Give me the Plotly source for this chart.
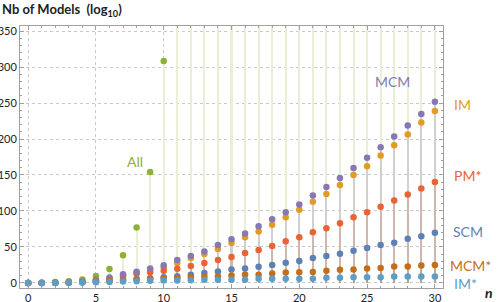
import plotly.graph_objects as go

n = list(range(31))

# log10 of number of models
scm = [0, 0, 0.2, 0.5, 1, 2, 3, 4, 5, 6.5, 8.0, 9.4, 11.3, 14.0, 15.8, 18.6, 20.0, 22.5,
       25.1, 28.2, 30.6, 34.7, 37.5, 40.6, 44.6, 48.5, 52.6, 55.8, 61.3, 65.0, 69.6]
im = [0, 0, 0.3, 0.8, 1.8, 4, 6.5, 10.5, 14, 18.5, 21.8, 27.8, 34.7, 40.2, 47.1, 55.4, 63.6, 71.4,
      81.0, 91.2, 101.7, 112.7, 123.7, 136.1, 149.9, 162.3, 177.0, 191.2, 206.3, 222.9, 239.0]
all_models = [0.3, 0.6, 1.2, 2.4, 4.8, 9.6, 19.3, 38.5, 77.1, 154.1, 308.3,
              616.5, 1233, 2466, 4932, 9864, 19728, 39457, 78913, 157827, 315653,
              631306, 1262612, 2525225, 5050450, 10100899, 20201798, 40403597,
              80807193, 161614387, 323228774]
pm_star = [0, 0, 0.3, 0.6, 1.5, 3, 5, 8.5, 12.7, 15, 16.8, 19.6, 23.7, 27.8, 32.0, 36.1, 41.6,
           45.7, 51.2, 58.1, 63.6, 70.5, 76.0, 82.9, 91.2, 98.1, 105.8, 114.6, 122.9, 131.1, 140.2]
mcm = [0, 0, 0.3, 0.8, 2, 4.5, 7.6, 12, 15.5, 20, 24.5, 32.0, 37.5, 43.8, 52.6, 60.9, 68.6, 78.8,
       88.4, 98.1, 109.1, 121.5, 133.3, 145.7, 159.8, 173.8, 188.4, 203.6, 218.7, 234.8, 251.8]
mcm_star = [0, 0, 0.2, 0.5, 1, 2, 3, 4, 5, 6, 6.6, 6.6, 8.0, 8.5, 9.0, 10.3, 11.7, 11.5,
            13.1, 14.5, 14.9, 15.4, 16.8, 18.2, 18.6, 20.0, 20.9, 22.7, 22.7, 24.1, 25.1]
im_star = [0, 0, 0.1, 0.3, 0.6, 1, 1.5, 2, 2.5, 3, 3.4, 3.4, 3.9, 4.4, 4.4, 4.4, 4.4, 5.8,
           5.8, 5.8, 5.8, 5.8, 7.2, 7.2, 7.8, 8.0, 8.0, 9.0, 9.0, 9.0, 9.0]

series = [
    ("SCM", scm, "#5E81B5"),
    ("IM", im, "#E19C24"),
    ("All", all_models, "#8FB032"),
    ("PM*", pm_star, "#EB6235"),
    ("MCM", mcm, "#8778B3"),
    ("MCM*", mcm_star, "#C56E1A"),
    ("IM*", im_star, "#5D9EC7"),
]

# series labels in paper coordinates
labels = [
    ("MCM", 0.881, 0.790, "#8778B3"),
    ("IM", 1.045, 0.702, "#E19C24"),
    ("PM*", 1.057, 0.431, "#EB6235"),
    ("SCM", 1.059, 0.214, "#5E81B5"),
    ("MCM*", 1.066, 0.084, "#C56E1A"),
    ("IM*", 1.054, 0.019, "#5D9EC7"),
    ("All", 0.272, 0.481, "#8FB032"),
]


def blend(hexc, a):
    h = hexc.lstrip("#")
    r, g, b = int(h[0:2], 16), int(h[2:4], 16), int(h[4:6], 16)
    return f"rgb({round(255 - (255 - r) * a)},{round(255 - (255 - g) * a)},{round(255 - (255 - b) * a)})"


def rgba(hexc, a):
    h = hexc.lstrip("#")
    r, g, b = int(h[0:2], 16), int(h[2:4], 16), int(h[4:6], 16)
    return f"rgba({r},{g},{b},{a})"


fig = go.Figure()

# filling lines to axis
for name, vals, col in series:
    fill = blend(col, 0.2) if name == "All" else rgba(col, 0.25)
    fig.add_trace(go.Bar(x=n, y=vals, width=0.15,
                         marker=dict(color=fill, line=dict(width=0)),
                         showlegend=False, hoverinfo="skip"))

for name, vals, col in series:
    fig.add_trace(go.Scatter(x=n, y=vals, mode="markers", name=name,
                             marker=dict(color=col, size=6.5, line=dict(width=0)),
                             showlegend=False))

for text, x, y, col in labels:
    fig.add_annotation(x=x, y=y, xref="paper", yref="paper", text=text, showarrow=False,
                       xanchor="center", yanchor="middle",
                       font=dict(family="Lato", size=14, color=col))

fig.add_annotation(x=1.109, y=-0.019, xref="paper", yref="paper", text="<b><i>n</i></b>",
                   xanchor="center", yanchor="middle",
                   showarrow=False, font=dict(family="Lato", size=14, color="#222"))
fig.add_annotation(x=-20 / 423, y=1 + 16 / 262, xref="paper", yref="paper",
                   xanchor="left", yanchor="middle",
                   text="<b>Nb of Models  (log<sub>10</sub>)</b>", showarrow=False,
                   font=dict(family="Lato", size=13, color="#222"))

axis_common = dict(showline=True, linecolor="#A0A0A0", linewidth=1, mirror="allticks",
                   ticks="inside", tickcolor="#A0A0A0", zeroline=False,
                   showgrid=True, gridcolor="#C8C8C8", griddash="dot", gridwidth=1,
                   tickfont=dict(family="Lato", size=11, color="#222"), automargin=False)

fig.update_xaxes(range=[-0.6, 30.6], tickmode="array", tickvals=[0, 5, 10, 15, 20, 25, 30],
                 ticklen=4, minor=dict(dtick=1, ticks="inside", ticklen=2, tickcolor="#A0A0A0", showgrid=False),
                 **axis_common)
fig.update_yaxes(range=[-7, 357], tickmode="array", tickvals=[0, 50, 100, 150, 200, 250, 300, 350],
                 ticklen=4, minor=dict(dtick=10, ticks="inside", ticklen=2, tickcolor="#A0A0A0", showgrid=False),
                 **axis_common)

fig.update_layout(width=498, height=302, margin=dict(l=20, r=55, t=26, b=14),
                  plot_bgcolor="white", paper_bgcolor="white", barmode="overlay",
                  bargap=0)

fig.write_html("out.html", config={"displayModeBar": False},
               post_script="document.body.style.margin='0';")
